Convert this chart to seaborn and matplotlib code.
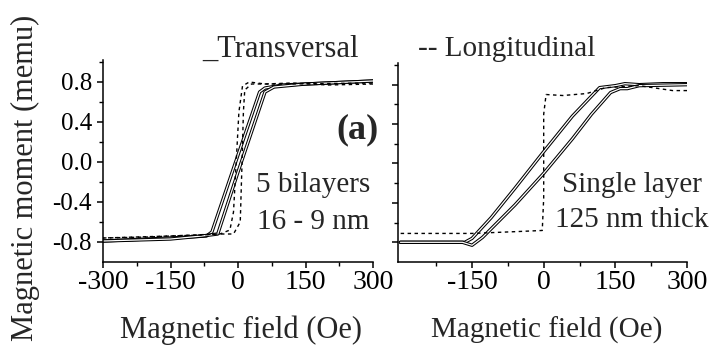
import matplotlib
matplotlib.use("Agg")
import matplotlib.pyplot as plt
import matplotlib.patheffects as pe
import seaborn as sns
import numpy as np

# ---- data ----
# Panel 1: 5 bilayers 16 - 9 nm
p1_trans_down_h = [300, 200, 100, 60, 48, 0, -58, -70, -150, -300]
p1_trans_down_m = [0.81, 0.79, 0.77, 0.74, 0.70, 0.07, -0.70, -0.74, -0.76, -0.79]
p1_trans_up_h = [-300, -150, -80, -45, 0, 60, 80, 150, 300]
p1_trans_up_m = [-0.79, -0.77, -0.74, -0.72, -0.10, 0.70, 0.75, 0.78, 0.81]

p1_long_down_h = [300, 200, 120, 60, 25, 10, 2, -4, -10, -18, -40, -80, -150, -300]
p1_long_down_m = [0.78, 0.77, 0.79, 0.78, 0.80, 0.76, 0.50, 0.00, -0.50, -0.68, -0.72, -0.73, -0.74, -0.76]
p1_long_up_h = [-300, -200, -100, -40, -10, 5, 9, 12, 15, 30, 100, 300]
p1_long_up_m = [-0.76, -0.75, -0.73, -0.72, -0.72, -0.60, 0.00, 0.50, 0.72, 0.78, 0.78, 0.79]

# Panel 2: single layer 125 nm thick
p2_trans_down_h = [300, 250, 200, 170, 150, 117, 60, 0, -60, -110, -150, -165, -200, -300]
p2_trans_down_m = [0.81, 0.81, 0.80, 0.81, 0.79, 0.77, 0.48, 0.12, -0.25, -0.55, -0.76, -0.80, -0.80, -0.80]
p2_trans_up_h = [-300, -200, -170, -150, -128, -60, 0, 60, 100, 140, 160, 175, 200, 300]
p2_trans_up_m = [-0.80, -0.80, -0.80, -0.83, -0.75, -0.42, -0.10, 0.25, 0.50, 0.72, 0.76, 0.76, 0.79, 0.80]

p2_long_h = [300, 270, 200, 130, 90, 40, 5, 0, 0, -3, -50, -100, -150, -300]
p2_long_m = [0.74, 0.74, 0.79, 0.77, 0.71, 0.69, 0.70, 0.50, -0.35, -0.68, -0.69, -0.70, -0.71, -0.71]

y_ticks = [-0.8, -0.4, 0.0, 0.4, 0.8]
y_ticklabels = ["-0.8", "-0.4", "0.0", "0.4", "0.8"]
x_ticks_left = [-300, -150, 0, 150, 300]
x_ticks_right = [-150, 0, 150, 300]

# ---- style ----
sns.set_style("ticks")
plt.rcParams["font.family"] = ["Liberation Serif", "DejaVu Serif"]
plt.rcParams["axes.unicode_minus"] = False

W, H = 713, 345
fig = plt.figure(figsize=(W / 100, H / 100), dpi=100)
fig.patch.set_facecolor("white")

def px_axes(x0, x1, ytop, ybot):
    return fig.add_axes([x0 / W, 1 - ybot / H, (x1 - x0) / W, (ybot - ytop) / H])

ax1 = px_axes(103, 373, 60, 262)
ax2 = px_axes(398, 687, 63, 262)

hollow = [pe.Stroke(linewidth=2.4, foreground="black"), pe.Normal()]

def solid(ax, h, m):
    sns.lineplot(x=h, y=m, ax=ax, sort=False, color="white", linewidth=0.9,
                 path_effects=hollow, estimator=None)

def dashed(ax, h, m):
    sns.lineplot(x=h, y=m, ax=ax, sort=False, color="black", linewidth=1.0,
                 dashes=False, estimator=None, linestyle=(0, (2.5, 2.5)))

solid(ax1, p1_trans_down_h, p1_trans_down_m)
solid(ax1, p1_trans_up_h, p1_trans_up_m)
dashed(ax1, p1_long_down_h, p1_long_down_m)
dashed(ax1, p1_long_up_h, p1_long_up_m)

solid(ax2, p2_trans_down_h, p2_trans_down_m)
solid(ax2, p2_trans_up_h, p2_trans_up_m)
dashed(ax2, p2_long_h, p2_long_m)

for ax in (ax1, ax2):
    ax.set_ylim(-1.0, 1.02)
    ax.set_yticks(y_ticks)
    ax.set_yticks([-0.6, -0.2, 0.2, 0.6, 1.0], minor=True)
    for s in ("top", "right"):
        ax.spines[s].set_visible(False)
    for s in ("left", "bottom"):
        ax.spines[s].set_linewidth(1.1)
        ax.spines[s].set_color("black")
    ax.tick_params(axis="both", which="major", direction="out", length=4, width=1.1, colors="black")
    ax.tick_params(axis="both", which="minor", direction="out", length=3, width=1.0, colors="black")
    ax.tick_params(axis="y", labelsize=18, pad=4)
    ax.tick_params(axis="x", labelsize=20, pad=2)
    ax.set_xlabel("")
    ax.set_ylabel("")
    ax.set_facecolor("white")

ax1.set_xlim(-300, 300)
ax1.set_xticks(x_ticks_left)
ax1.set_xticks([-225, -75, 75, 225], minor=True)
ax1.set_yticklabels(y_ticklabels)

ax2.set_xlim(-305, 300)
ax2.set_xticks(x_ticks_right)
ax2.set_xticks([-225, -75, 75, 225], minor=True)
ax2.set_yticklabels([])

def ftext(x, y, s, **kw):
    fig.text(x / W, 1 - y / H, s, ha="center", va="center", **kw)

ftext(25, 178, "Magnetic moment (memu)", rotation=90, fontsize=22)
ftext(241, 330, "Magnetic field (Oe)", fontsize=22)
ftext(547, 330, "Magnetic field (Oe)", fontsize=21)
ftext(280, 49, "_Transversal", fontsize=22)
ftext(507, 49, "-- Longitudinal", fontsize=21)
ftext(357, 130, "(a)", fontsize=26, fontweight="bold")
ftext(313, 185, "5 bilayers", fontsize=21)
ftext(313, 222, "16 - 9 nm", fontsize=21)
ftext(632, 185, "Single layer", fontsize=21)
ftext(632, 220, "125 nm thick", fontsize=21)

fig.savefig("out.png", dpi=100, facecolor="white")
